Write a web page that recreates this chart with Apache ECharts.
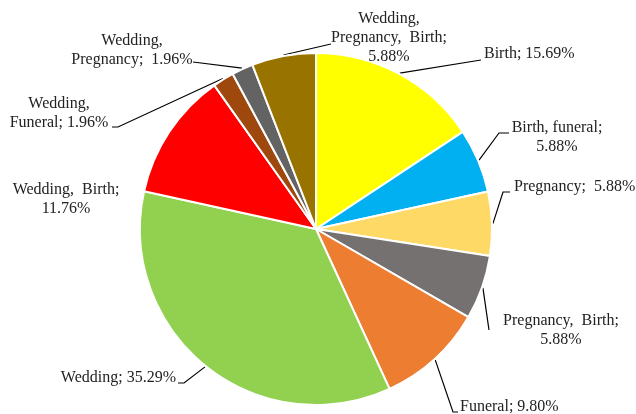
<!DOCTYPE html>
<html>
<head>
<meta charset="utf-8">
<script src="https://cdn.jsdelivr.net/npm/echarts@6/dist/echarts.min.js"></script>
<style>html,body{margin:0;padding:0;background:#fff}#c{width:636px;height:414px}</style>
</head>
<body>
<div id="c"></div>
<script>
// ---- data ----
const categories = ["Birth", "Birth, funeral", "Pregnancy", "Pregnancy, Birth", "Funeral", "Wedding",
  "Wedding, Birth", "Wedding, Funeral", "Wedding, Pregnancy", "Wedding, Pregnancy, Birth"];
const values = [15.69, 5.88, 5.88, 5.88, 9.80, 35.29, 11.76, 1.96, 1.96, 5.88];
const colors = ["#FFFF00", "#00B0F0", "#FFD966", "#767171", "#ED7D31", "#92D050",
  "#FF0000", "#9E480E", "#636363", "#997300"];

// ---- label layout (positions only) ----
// text: label string template, x/y: anchor, align, line: bend points after the slice edge
const labelCfg = [
  {t: "{n}; {v}", x: 484, y: 54, align: "left", line: [[481, 60]]},
  {t: "{n};\n{v}", x: 557, y: 137, align: "center", line: [[499, 133], [509, 133]]},
  {t: "{n};  {v}", x: 514, y: 187, align: "left", line: [[503, 192], [510, 192]]},
  {t: "Pregnancy,  Birth;\n{v}", x: 561, y: 330, align: "center", line: [[489, 330]]},
  {t: "{n}; {v}", x: 460, y: 407, align: "left", line: [[453, 412], [458, 412]]},
  {t: "{n}; {v}", x: 176, y: 378, align: "right", line: [[184, 383], [178, 383]]},
  {t: "Wedding,  Birth;\n{v}", x: 66, y: 199, align: "center", line: null},
  {t: "Wedding,\nFuneral; {v}", x: 59, y: 113, align: "center", line: [[118, 127], [112, 127]]},
  {t: "Wedding,\nPregnancy;  {v}", x: 132, y: 50, align: "center", line: [[193, 62]]},
  {t: "Wedding,\nPregnancy,  Birth;\n{v}", x: 389, y: 38, align: "center", line: [[318, 47], [331, 44]]}
];

const CX = 316, CY = 229, R = 176;
const total = values.reduce((a, b) => a + b, 0);
function edgePoint(i) {
  let before = 0;
  for (let k = 0; k < i; k++) before += values[k];
  const ang = (before + values[i] / 2) / total * 2 * Math.PI;
  return [CX + (R + 1) * Math.sin(ang), CY - (R + 1) * Math.cos(ang)];
}

const chart = echarts.init(document.getElementById('c'), null, {renderer: 'canvas'});
chart.setOption({
  animation: false,
  backgroundColor: '#fff',
  series: [{
    type: 'pie',
    center: [CX, CY],
    radius: R,
    startAngle: 90,
    clockwise: true,
    avoidLabelOverlap: false,
    data: categories.map((n, i) => ({name: n, value: values[i], itemStyle: {color: colors[i]}})),
    itemStyle: {borderColor: '#fff', borderWidth: 2},
    label: {
      show: true,
      position: 'outside',
      fontFamily: 'Liberation Serif',
      fontSize: 16,
      lineHeight: 19,
      color: '#222',
      formatter: p => labelCfg[p.dataIndex].t.replace('{n}', p.name).replace('{v}', p.value.toFixed(2) + '%')
    },
    labelLine: {show: true, length: 5, length2: 5, lineStyle: {color: '#000', width: 1.2}},
    emphasis: {disabled: true},
    labelLayout: function (params) {
      const c = labelCfg[params.dataIndex];
      const out = {x: c.x, y: c.y, align: c.align, verticalAlign: 'middle'};
      if (c.line) {
        out.labelLinePoints = [edgePoint(params.dataIndex)].concat(c.line);
      } else {
        const e = edgePoint(params.dataIndex);
        out.labelLinePoints = [e, e, e];
      }
      return out;
    }
  }]
});
</script>
</body>
</html>
